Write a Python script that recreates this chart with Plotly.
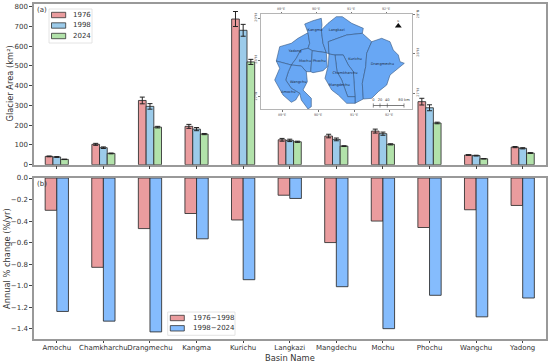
import plotly.graph_objects as go

W, H = 550, 364

basins = ["Amochu", "Chamkharchu", "Drangmechu", "Kangma", "Kurichu", "Langkazi",
          "Mangdechu", "Mochu", "Phochu", "Wangchu", "Yadong"]
area_1976 = [42, 103, 325, 194, 737, 126, 145, 170, 319, 49, 89]
area_1998 = [39, 86, 295, 180, 680, 123, 128, 157, 288, 46, 83]
area_2024 = [27, 57, 190, 155, 520, 116, 94, 103, 211, 30, 59]
err_1976 = [2, 5, 17, 10, 38, 7, 9, 10, 17, 2, 3]
err_1998 = [2, 4, 14, 8, 30, 6, 7, 8, 15, 2, 3]
err_2024 = [1, 2, 4, 3, 13, 3, 2, 3, 4, 1, 2]
rate_76_98 = [-0.30, -0.83, -0.47, -0.33, -0.39, -0.16, -0.60, -0.40, -0.46, -0.295, -0.255]
rate_98_24 = [-1.24, -1.33, -1.43, -0.565, -0.945, -0.19, -1.01, -1.40, -1.09, -1.29, -1.115]

# Inset map: basin outlines in the inset's own map units
map_regions = {
    "Yadong": [(279.7,46.7),(291.3,43.3),(298,38.3),(308,32.7),(309.7,43.3),(308,48.3),(300.7,50),(296.3,58.3),(291.3,65),(276.3,61)],
    "Kangma": [(308,32.7),(304.7,24),(313,20.7),(321.3,18.3),(322,25),(321.3,30),(323,43.3),(326.3,52.7),(312.3,50.7),(308,48.3),(309.7,43.3)],
    "Langkazi": [(321.3,30),(328,23.3),(336.3,16.7),(342.3,16.7),(351.7,23.3),(363.3,28.3),(362.3,33.3),(346.7,35),(328.3,41.7),(329,54),(326.3,52.7),(323,43.3)],
    "Mochu": [(300.7,50),(308,48.3),(312.3,50.7),(311.3,65),(310.7,71.7),(306.3,71.7),(301.3,66),(291.3,65),(296.3,58.3)],
    "Phochu": [(312.3,50.7),(326.3,52.7),(327.3,66.7),(323,70.7),(313,72.7),(310.7,71.7),(311.3,65)],
    "Kurichu": [(328.3,41.7),(346.7,35),(362.3,33.3),(371.7,41.7),(366.7,53.3),(365.7,66.7),(362.3,83.3),(363.3,99),(355,103.3),(355,96.7),(353.3,71.7),(348.3,65),(343.3,55),(335,55),(329,54)],
    "Drangmechu": [(371.7,41.7),(381.7,38.3),(390,41.7),(393.3,50),(398.3,55),(400,61.7),(404.3,63.3),(398.3,68.3),(390,75),(386.7,85),(378.3,91.7),(371.7,98.3),(363.3,99),(362.3,83.3),(365.7,66.7),(366.7,53.3)],
    "Chamkharchu": [(335,55),(343.3,55),(348.3,65),(353.3,71.7),(355,96.7),(347.7,96.7),(341.7,80),(337,71.7)],
    "Mangdechu": [(329,54),(335,55),(337,71.7),(341.7,80),(347.7,96.7),(355,96.7),(355,103.3),(346.7,103.3),(338.3,95),(331.7,90),(325,78.3),(328.3,65)],
    "Wangchu": [(291.3,65),(301.3,66),(306.3,71.7),(307.3,81.7),(303,90),(311.3,98.3),(311.3,106.7),(308,109),(301.3,100),(299.7,93.3),(291.3,88.3),(285.7,80),(288.3,71.7)],
    "Amochu": [(276.3,61),(291.3,65),(288.3,71.7),(285.7,80),(291.3,88.3),(299.7,93.3),(295.7,100),(291.3,102.3),(283,95),(274.7,80),(279.7,68.3)],
}
map_label_names = ["Kangma","Langkazi","Yadong","Mochu","Phochu","Kurichu","Drangmechu","Chamkharchu","Wangchu","Mangdechu","Amochu"]
map_label_x = [315,336.7,295,305,319.3,355,382.3,345,298.3,339.3,288.3]
map_label_y = [30,30,51.3,61,61,59.3,64.3,72.7,82,84.7,91.7]
lon_labels = ["89°E","90°E","91°E","92°E"]
lon_top = [281,316,351,386]
lon_bottom = [282,318,354,389]
lat_labels = ["29°N","28°N","27°N"]
lat_left = [18,60,96.7]
lat_right = [14.5,53,93]
scale_x = [373.3,380,387.3,404]
scale_text = ["0","20","40","80 km"]

FONT = "DejaVu Sans"
TXT = "#333333"
SPINE = "#999999"
EDGE = "rgba(45,45,45,0.85)"
RED, SKY, GREEN, BLUE = "#ea9c9e", "#9ccbea", "#b2e2aa", "#85bcfd"

def px_x(p): return p / W
def px_y(p): return 1 - p / H

fig = go.Figure()

for name, vals, errs, col, off in [("1976", area_1976, err_1976, RED, -0.165),
                                   ("1998", area_1998, err_1998, SKY, 0.0),
                                   ("2024", area_2024, err_2024, GREEN, 0.165)]:
    fig.add_trace(go.Bar(x=basins, y=vals, name=name, width=0.165, offset=off - 0.0825,
                         marker=dict(color=col, line=dict(color=EDGE, width=1)),
                         error_y=dict(type="data", array=errs, color="#222222", thickness=1, width=2.5),
                         xaxis="x", yaxis="y", showlegend=False, hoverinfo="skip"))

for name, vals, col, off in [("1976−1998", rate_76_98, RED, -0.25), ("1998−2024", rate_98_24, BLUE, 0.0)]:
    fig.add_trace(go.Bar(x=basins, y=vals, name=name, width=0.25, offset=off,
                         marker=dict(color=col, line=dict(color=EDGE, width=1)),
                         xaxis="x2", yaxis="y2", showlegend=False, hoverinfo="skip"))

for region, pts in map_regions.items():
    xs = [p[0] for p in pts] + [pts[0][0]]
    ys = [p[1] for p in pts] + [pts[0][1]]
    fig.add_trace(go.Scatter(x=xs, y=ys, mode="lines", fill="toself", fillcolor="#68a7f4",
                             line=dict(color="#34557f", width=0.6), xaxis="x3", yaxis="y3",
                             showlegend=False, hoverinfo="skip", name=region))

fig.add_trace(go.Scatter(x=map_label_x, y=map_label_y, text=map_label_names, mode="text",
                         textfont=dict(family=FONT, size=3.6, color="#1c2b44"),
                         xaxis="x3", yaxis="y3", showlegend=False, hoverinfo="skip"))
# scale bar
fig.add_trace(go.Scatter(x=scale_x, y=[105.5]*4, mode="lines+markers",
                         line=dict(color="#444444", width=0.7),
                         marker=dict(symbol="line-ns", size=3, line=dict(color="#444444", width=0.6)),
                         xaxis="x3", yaxis="y3", showlegend=False, hoverinfo="skip"))
fig.add_trace(go.Scatter(x=scale_x, y=[100.5]*4, mode="text", text=scale_text,
                         textfont=dict(family=FONT, size=3.6, color="#333333"),
                         xaxis="x3", yaxis="y3", showlegend=False, hoverinfo="skip"))
# north arrow
fig.add_trace(go.Scatter(x=[398.3], y=[26], mode="markers", marker=dict(symbol="triangle-up", size=6, color="#111111"),
                         xaxis="x3", yaxis="y3", showlegend=False, hoverinfo="skip"))
fig.add_trace(go.Scatter(x=[398.3], y=[21], mode="text", text=["N"],
                         textfont=dict(family=FONT, size=2.5, color="#333333"),
                         xaxis="x3", yaxis="y3", showlegend=False, hoverinfo="skip"))
# top / right companions for the inset's frame labels
fig.add_trace(go.Scatter(x=[lon_top[0]], y=[lat_right[0]], mode="markers", marker=dict(opacity=0),
                         xaxis="x4", yaxis="y4", showlegend=False, hoverinfo="skip"))

spine = dict(showline=True, linecolor=SPINE, linewidth=1.5, mirror=True, showgrid=False, zeroline=False, automargin=False)
tick = dict(ticks="outside", ticklen=2.5, tickwidth=0.8, tickcolor="#444444",
            tickfont=dict(family=FONT, size=7, color=TXT))
xdom = [px_x(33.5), px_x(546)]
title_font = dict(family=FONT, size=8.3, color=TXT)

minis = dict(showgrid=False, zeroline=False, showline=True, linecolor="#b5b5b5", linewidth=1, automargin=False,
             ticks="outside", ticklen=1.5, tickwidth=0.5, tickcolor="#777777",
             tickfont=dict(family=FONT, size=3.4, color="#555555"))
mx = [260.7, 412]
my = [109.3, 14.3]
mdx = [px_x(260.7), px_x(412)]
mdy = [px_y(109.3), px_y(14.3)]

# legend keys, drawn as small rectangles so their rows can be as tight as the reference
legend_a_labels = ["1976", "1998", "2024"]
legend_a_colors = [RED, SKY, GREEN]
legend_a_rows = [15, 25.5, 36]
legend_b_labels = ["1976−1998", "1998−2024"]
legend_b_colors = [RED, BLUE]
legend_b_rows = [318, 328.3]

def rect(x0, y0, x1, y1, fill, line, lw):
    return dict(type="rect", xref="paper", yref="paper", x0=px_x(x0), x1=px_x(x1), y0=px_y(y0), y1=px_y(y1),
                fillcolor=fill, line=dict(color=line, width=lw), layer="above")

shapes = [rect(49, 9, 92, 43, "rgba(255,255,255,0.85)", "#dddddd", 0.8),
          rect(167.7, 312, 235, 335.3, "rgba(255,255,255,0.85)", "#dddddd", 0.8)]
annos = []
for lab, col, row in zip(legend_a_labels, legend_a_colors, legend_a_rows):
    shapes.append(rect(51.5, row - 2.7, 65.7, row + 2.7, col, EDGE, 0.9))
    annos.append(dict(text=lab, x=px_x(71), y=px_y(row), xref="paper", yref="paper", xanchor="left",
                      yanchor="middle", showarrow=False, font=dict(family=FONT, size=7, color=TXT)))
for lab, col, row in zip(legend_b_labels, legend_b_colors, legend_b_rows):
    shapes.append(rect(170.3, row - 2.7, 184.3, row + 2.7, col, EDGE, 0.9))
    annos.append(dict(text=lab, x=px_x(190.5), y=px_y(row), xref="paper", yref="paper", xanchor="left",
                      yanchor="middle", showarrow=False, font=dict(family=FONT, size=7, color=TXT)))

annos += [
    dict(text="(a)", x=px_x(35), y=px_y(9.5), xref="paper", yref="paper", xanchor="left", yanchor="middle",
         showarrow=False, font=dict(family=FONT, size=7, color=TXT)),
    dict(text="(b)", x=px_x(35), y=px_y(184), xref="paper", yref="paper", xanchor="left", yanchor="middle",
         showarrow=False, font=dict(family=FONT, size=7, color=TXT)),
    dict(text="Glacier Area (km²)", x=px_x(9.5), y=px_y(84), xref="paper", yref="paper", textangle=-90,
         xanchor="center", yanchor="middle", showarrow=False, font=title_font),
    dict(text="Annual % change (%/yr)", x=px_x(7), y=px_y(259), xref="paper", yref="paper", textangle=-90,
         xanchor="center", yanchor="middle", showarrow=False, font=title_font),
    dict(text="Basin Name", x=px_x(290), y=px_y(358), xref="paper", yref="paper",
         xanchor="center", yanchor="middle", showarrow=False, font=title_font),
]

fig.update_layout(
    width=W, height=H, autosize=False, margin=dict(l=0, r=0, t=0, b=0, autoexpand=False),
    paper_bgcolor="white", plot_bgcolor="white", barmode="overlay", showlegend=False,
    font=dict(family=FONT, color=TXT), shapes=shapes, annotations=annos,
    xaxis=dict(domain=xdom, anchor="y", range=[-0.5, 10.5], type="category",
               categoryorder="array", categoryarray=basins, showticklabels=False, **spine,
               ticks="outside", ticklen=2.5, tickwidth=0.8, tickcolor="#444444"),
    yaxis=dict(domain=[px_y(164.7), px_y(4)], anchor="x", range=[0, 813],
               tickvals=[0,100,200,300,400,500,600,700,800], **spine, **tick),
    xaxis2=dict(domain=xdom, anchor="y2", range=[-0.5, 10.5], type="category", tickangle=0, ticklabelstandoff=-2,
                categoryorder="array", categoryarray=basins, **spine, **tick),
    yaxis2=dict(domain=[px_y(339), px_y(178)], anchor="x2", range=[-1.496, 0],
                tickvals=[0,-0.2,-0.4,-0.6,-0.8,-1.0,-1.2,-1.4], tickformat=".1f", **spine, **tick),
    xaxis3=dict(domain=mdx, anchor="y3", range=mx, tickvals=lon_bottom, ticktext=lon_labels, mirror=True, **minis),
    yaxis3=dict(domain=mdy, anchor="x3", range=my, tickvals=lat_left, ticktext=lat_labels, tickangle=-90, mirror=True, **minis),
    xaxis4=dict(domain=mdx, anchor="y4", side="top", overlaying="x3", range=mx, tickvals=lon_top, ticktext=lon_labels, **minis),
    yaxis4=dict(domain=mdy, anchor="x4", side="right", overlaying="y3", range=my, tickvals=lat_right, ticktext=lat_labels, tickangle=-90, **minis),
)

fig.write_html("out.html", post_script="document.body.style.margin='0';", config=dict(displayModeBar=False))
